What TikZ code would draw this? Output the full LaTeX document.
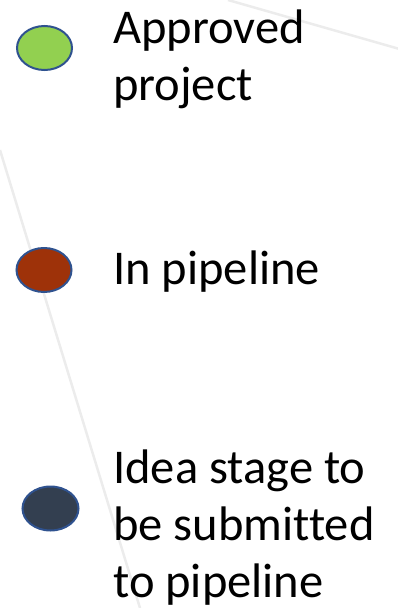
\documentclass[tikz,border=0pt]{standalone}
\usepackage{fontspec}
\setmainfont{Carlito}[Ligatures=NoCommon]
\usetikzlibrary{shapes.geometric}
\definecolor{approved}{HTML}{92D050}
\definecolor{pipeline}{HTML}{9E3209}
\definecolor{idea}{HTML}{333F50}
\definecolor{rim}{HTML}{2F528F}
\definecolor{faint}{HTML}{ECECEC}
\tikzset{
  dot/.style={ellipse, draw=rim, line width=2pt, minimum width=55pt, minimum height=44pt, inner sep=0pt},
  label/.style={anchor=base west, align=left, inner sep=0pt, font=\fontsize{48.5}{57}\selectfont},
  backline/.style={draw=faint, line width=2.5pt}
}
\begin{document}
\begin{tikzpicture}[x=1pt, y=-1pt]
  \useasboundingbox (0,0) rectangle (398,608);
  \begin{scope}
    \clip (0,0) rectangle (398,608);
    % faint background strokes
    \draw[backline] (228,0) -- (410,52);
    \draw[backline] (0,150) -- (140,608);
  \end{scope}
  % legend markers
  \node[dot, fill=approved] (e1) at (44.5,48) {};
  \node[dot, fill=pipeline] (e2) at (44,270) {};
  \node[dot, fill=idea, minimum width=56pt] (e3) at (50.5,508.5) {};
  % legend texts (anchored on the baseline of their last line)
  \node[label] (t1) at (113,100) {Approved\\project};
  \node[label] (t2) at (113,284) {In pipeline};
  \node[label] (t3) at (113,597) {Idea stage to\\be submitted\\to pipeline};
\end{tikzpicture}
\end{document}
